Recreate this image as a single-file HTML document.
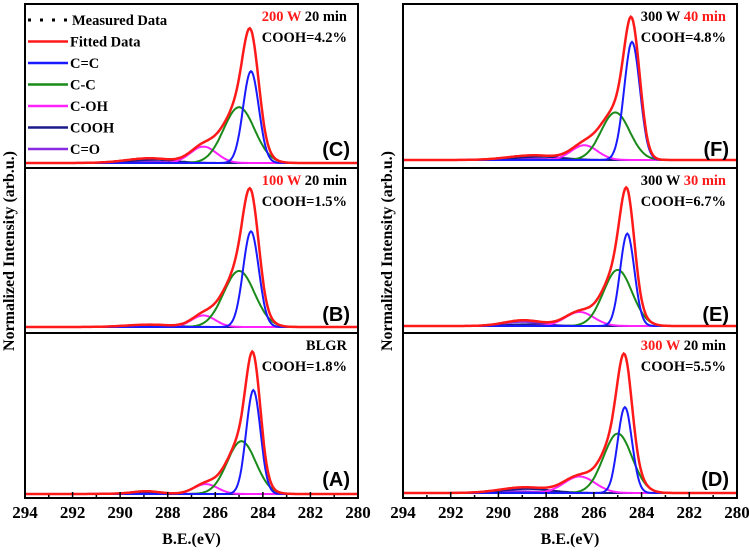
<!DOCTYPE html>
<html><head><meta charset="utf-8"><style>
body{margin:0;background:#fff;width:749px;height:552px;overflow:hidden}
svg text{font-family:"Liberation Serif",serif;font-weight:bold}
</style></head><body>
<svg id="c" width="749" height="552"></svg>
<script>
const ticks=[294,292,290,288,286,284,282,280];
const compNames=['C=C','C-C','C-OH','COOH','C=O'];
const compColors=['#1a1aff','#1a8a1a','#ff22ff','#1a1a8a','#8a2be2'];
const panelIds=['C','B','A','F','E','D'];
const centers=[[284.5,285.0,286.5,288.6,289.2],[284.5,285.0,286.5,288.6,289.2],[284.4,284.9,286.4,288.9,289.0],[284.4,285.1,286.4,288.3,289.0],[284.6,285.0,286.6,288.8,289.0],[284.7,285.0,286.6,288.8,289.2]];
const heights=[[0.56,0.34,0.10,0.02,0.01],[0.58,0.34,0.07,0.01,0.005],[0.63,0.32,0.06,0.012,0.005],[0.72,0.29,0.09,0.02,0.01],[0.56,0.34,0.085,0.01,0.025],[0.52,0.36,0.10,0.025,0.01]];
const sigmas=[[0.33,0.65,0.55,0.9,1.0],[0.33,0.65,0.5,0.9,1.0],[0.3,0.6,0.5,0.5,1.0],[0.33,0.6,0.55,1.0,1.0],[0.3,0.6,0.6,0.8,0.8],[0.3,0.6,0.65,1.0,1.0]];
const powers=['200 W','100 W','','300 W','300 W','300 W'];
const times=['20 min','20 min','','40 min','30 min','20 min'];
const cooh=['COOH=4.2%','COOH=1.5%','COOH=1.8%','COOH=4.8%','COOH=6.7%','COOH=5.5%'];
const NS='http://www.w3.org/2000/svg';
const svg=document.getElementById('c');
function mk(t,a,p){const e=document.createElementNS(NS,t);for(const k in a)e.setAttribute(k,a[k]);(p||svg).appendChild(e);return e;}
const cols=[{x0:25,x1:358},{x0:403,x1:737}];
const rows=[{y0:4,y1:168},{y0:168,y1:333},{y0:333,y1:498}];
const bases=[163,327,494,160,326,493];
panelIds.forEach((id,i)=>{
  const col=cols[Math.floor(i/3)],row=rows[i%3];
  const X=v=>col.x0+(294-v)/(294-280)*(col.x1-col.x0);
  const base=bases[i],H=row.y1-row.y0;
  const Y=v=>base-v*H;
  const g=mk('g',{});
  
  
  const f=(k,e)=>heights[i][k]*Math.exp(-Math.pow(e-centers[i][k],2)/(2*sigmas[i][k]*sigmas[i][k]));
  const order=[4,3,2,1,0];
  order.forEach(k=>{let d='';for(let e=294;e>=280-1e-9;e-=0.05){d+=(d?'L':'M')+X(e).toFixed(1)+','+Y(f(k,e)).toFixed(1);}
    const p=mk('path',{d:d,fill:'none',stroke:compColors[k],'stroke-width':2},g);
    
    });
  let d='';for(let e=294;e>=280-1e-9;e-=0.05){let s=0;for(let k=0;k<5;k++)s+=f(k,e);d+=(d?'L':'M')+X(e).toFixed(1)+','+Y(s).toFixed(1);}
  const r=mk('path',{d:d,fill:'none',stroke:'#ff1a1a','stroke-width':2.5},g);
  
  
  const fr=mk('rect',{x:col.x0,y:row.y0,width:col.x1-col.x0,height:H,fill:'none',stroke:'#000','stroke-width':2},g);
  
  
  const lt=mk('text',{x:col.x1-8,y:row.y1-12,'text-anchor':'end','font-size':20,style:'font-family:Liberation Sans,sans-serif'},g);
  lt.textContent='('+id+')';
  
  
  const tx=col.x1-11;
  const t1=mk('text',{x:tx,y:row.y0+17,'text-anchor':'end','font-size':14.5},g);
  
  
  if(powers[i]){const a=mk('tspan',{fill:i>=3?'#000':'#ff1a1a'},t1);a.textContent=powers[i]+' ';const b=mk('tspan',{fill:(i==3||i==4)?'#ff1a1a':'#000'},t1);b.textContent=times[i];
    if(i==5){a.setAttribute('fill','#ff1a1a');}}
  else t1.textContent='BLGR';
  const t2=mk('text',{x:tx,y:row.y0+38,'text-anchor':'end','font-size':14.5},g);
  t2.textContent=cooh[i];
  
  
});
// x axes
cols.forEach((col,ci)=>{
  const X=v=>col.x0+(294-v)/14*(col.x1-col.x0);
  for(let v=294;v>=280;v--){const l=mk('line',{x1:X(v),x2:X(v),y1:498,y2:498-(v%2?3:6),stroke:'#000','stroke-width':1.5});
    
    }
  ticks.forEach(v=>{const t=mk('text',{x:X(v),y:518,'text-anchor':'middle','font-size':17});t.textContent=v;
    
    });
  const tt=mk('text',{x:(col.x0+col.x1)/2,y:544,'text-anchor':'middle','font-size':16});tt.textContent='B.E.(eV)';
  
  
  const yx=ci?392:14;
  const yt=mk('text',{x:yx,y:251,'text-anchor':'middle','font-size':16,transform:`rotate(-90 ${yx} 251)`});yt.textContent='Normalized Intensity (arb.u.)';
  
  
});
// legend
const leg=mk('g',{});


const lnames=['Measured Data','Fitted Data'].concat(compNames);
const lcols=['#000','#ff1a1a'].concat(compColors);
lnames.forEach((n,j)=>{const y=20+j*21.5;
  const l=mk('line',{x1:28,x2:68,y1:y,y2:y,stroke:lcols[j],'stroke-width':j?2.5:3,'stroke-dasharray':j?'none':'3,9'},leg);
  
  
  const t=mk('text',{x:j?70:72,y:y+5,'font-size':14.5},leg);t.textContent=n;
  
  });
</script>
</body></html>
